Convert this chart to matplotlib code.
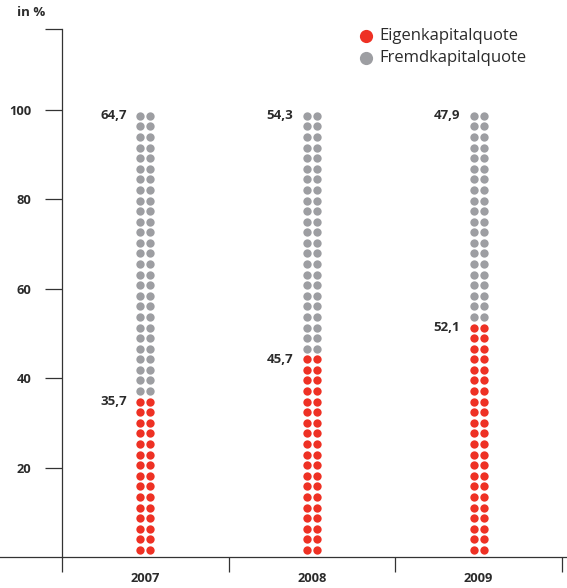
import matplotlib
matplotlib.use("Agg")
import matplotlib.pyplot as plt
from matplotlib.lines import Line2D

plt.rcParams['font.family'] = ['Open Sans', 'DejaVu Sans']

# ---- data ----
years = ["2007", "2008", "2009"]
eigen = [35.7, 45.7, 52.1]
fremd = [64.7, 54.3, 47.9]
eigen_labels = ["35,7", "45,7", "52,1"]
fremd_labels = ["64,7", "54,3", "47,9"]
yticks = [20, 40, 60, 80, 100]
legend_labels = ["Eigenkapitalquote", "Fremdkapitalquote"]

RED = "#EE3124"
GREY = "#9D9EA2"
TXT = "#2b2b2b"
LINE = "#333333"

W, H = 567, 588
fig = plt.figure(figsize=(W / 100, H / 100), dpi=100)

def fx(px):
    return px / W

def fy(py):
    return 1 - py / H

y0px, y100px, ytop = 557, 110, 29
ppu = (y0px - y100px) / 100.0
ymax = (y0px - ytop) / ppu

ax = fig.add_axes([fx(62), fy(y0px), fx(562) - fx(62), (y0px - ytop) / H])
ax.set_xlim(0, 3)
ax.set_ylim(0, ymax)
for s in ["top", "right", "bottom"]:
    ax.spines[s].set_visible(False)
ax.spines["left"].set_color(LINE)
ax.spines["left"].set_linewidth(0.9)

# y ticks
ax.set_yticks(yticks + [ymax])
ax.set_yticklabels([str(v) for v in yticks] + [""])
ax.tick_params(axis="y", direction="out", length=12.2, width=0.9, color=LINE,
               pad=10, labelsize=9.3, labelcolor=TXT)
for lab in ax.get_yticklabels():
    lab.set_fontweight("bold")

# x ticks: boundaries as major ticks, labels at category centres
ax.set_xticks([0, 1, 2, 3])
ax.set_xticklabels(["", "", "", ""])
ax.tick_params(axis="x", which="major", direction="out", length=10.8, width=0.9, color=LINE)
ax.set_xticks([0.5, 1.5, 2.5], minor=True)
ax.set_xticklabels(years, minor=True, fontweight="bold", fontsize=9.3, color=TXT)
ax.tick_params(axis="x", which="minor", length=0, pad=11)

# bottom line spanning full width
fig.add_artist(Line2D([0, 1], [fy(y0px), fy(y0px)], color=LINE, lw=0.9,
                      transform=fig.transFigure))

# dots
n_rows = 42
bottom_c, top_c = 1.6, 98.7
step = (top_c - bottom_c) / (n_rows - 1)
dx = 5 / (500 / 3)  # 5 px in data units
for i, (e, f) in enumerate(zip(eigen, fremd)):
    n_red = int(round(e / 100 * n_rows))
    cx = i + 0.5
    for r in range(n_rows):
        yy = bottom_c + r * step
        col = RED if r < n_red else GREY
        ax.scatter([cx - dx, cx + dx], [yy, yy], s=36, color=col, linewidths=0,
                   clip_on=False, zorder=3)
    red_top = bottom_c + (n_red - 1) * step
    ax.annotate(eigen_labels[i], xy=(cx, red_top), xytext=(-13.5, 0),
                textcoords="offset points", ha="right", va="center",
                fontsize=9.5, fontweight="bold", color=TXT)
    ax.annotate(fremd_labels[i], xy=(cx, top_c), xytext=(-13.5, 0),
                textcoords="offset points", ha="right", va="center",
                fontsize=9.5, fontweight="bold", color=TXT)

# "in %"
fig.text(fx(17), fy(13), "in %", ha="left", va="center", fontsize=9.5,
         fontweight="bold", color=TXT)

# legend
for (py, col, lab) in [(36, RED, legend_labels[0]), (58, GREY, legend_labels[1])]:
    fig.add_artist(Line2D([fx(366)], [fy(py)], marker="o", markersize=9.5,
                          markerfacecolor=col, markeredgewidth=0, linestyle="none",
                          transform=fig.transFigure))
    fig.text(fx(379), fy(py), lab, ha="left", va="center", fontsize=12, color=TXT)

fig.savefig("out.png", dpi=100)
